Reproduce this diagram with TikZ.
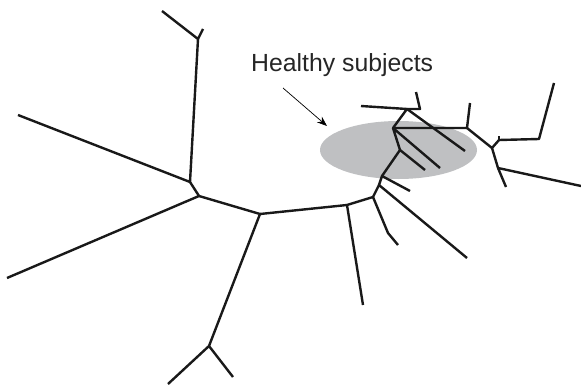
\documentclass[tikz,border=0pt]{standalone}
\usepackage{fontspec}
\setmainfont{Liberation Sans}
\usetikzlibrary{arrows.meta}
\definecolor{ellgray}{RGB}{191,192,194}
\tikzset{
  branch/.style={line width=2.4pt, line join=round, color=black!90},
  pointer/.style={line width=0.7pt, -{Stealth[length=10pt,width=7.5pt]}},
  label/.style={anchor=base west, inner sep=0pt, font=\fontsize{24.8}{29}\selectfont, text=black!85}
}
\begin{document}
\begin{tikzpicture}[x=1pt,y=-1pt]
\useasboundingbox (0,0) rectangle (581,385);
% shaded cluster
\fill[ellgray] (398.5,150) ellipse [x radius=78.5, y radius=29];
% internal nodes
\coordinate (n1) at (198,39);
\coordinate (n2) at (190,182);
\coordinate (n3) at (199,196);
\coordinate (n4) at (260,214);
\coordinate (n5) at (209,346);
\coordinate (n6) at (347,205);
\coordinate (n7) at (373,197);
\coordinate (n8) at (379,185);
\coordinate (n9) at (382,176);
\coordinate (n10) at (400,150);
\coordinate (na) at (393,128);
\coordinate (nc) at (407,109);
\coordinate (nb) at (467,128);
\coordinate (ng) at (492,148);
\coordinate (nh) at (498,168);
\coordinate (nk) at (499,140);
\coordinate (nj) at (388,233);
\coordinate (nm) at (420,109);
\coordinate (np) at (539,139);
% leaves
\coordinate (l1) at (162,11);
\coordinate (l1s) at (203,29);
\coordinate (l2) at (18,115);
\coordinate (l3) at (7,278);
\coordinate (l4) at (168,384);
\coordinate (l5) at (233,377);
\coordinate (l6) at (363,305);
\coordinate (l7) at (398,245);
\coordinate (l8) at (467,258);
\coordinate (l9) at (410,191);
\coordinate (l10) at (425,170);
\coordinate (l11) at (440,168);
\coordinate (l12) at (361,106);
\coordinate (l13) at (416,92);
\coordinate (l14) at (465,151);
\coordinate (l15) at (470,103);
\coordinate (l16) at (554,83);
\coordinate (l16s) at (499,136);
\coordinate (l17) at (506,187);
\coordinate (l18) at (581,186);
% tree
\draw[branch] (l1) -- (n1) -- (l1s);
\draw[branch] (n1) -- (n2) -- (l2);
\draw[branch] (n2) -- (n3) -- (l3);
\draw[branch] (n3) -- (n4) -- (n5) -- (l4);
\draw[branch] (n5) -- (l5);
\draw[branch] (n4) -- (n6) -- (l6);
\draw[branch] (n6) -- (n7) -- (nj) -- (l7);
\draw[branch] (n7) -- (n8) -- (l8);
\draw[branch] (n8) -- (n9) -- (l9);
\draw[branch] (n9) -- (n10) -- (l10);
\draw[branch] (n10) -- (na) -- (l11);
\draw[branch] (na) -- (nc) -- (l12);
\draw[branch] (nc) -- (nm) -- (l13);
\draw[branch] (nc) -- (l14);
\draw[branch] (na) -- (nb) -- (l15);
\draw[branch] (nb) -- (ng) -- (nk) -- (np) -- (l16);
\draw[branch] (nk) -- (l16s);
\draw[branch] (ng) -- (nh) -- (l17);
\draw[branch] (nh) -- (l18);
% label
\node[label] (lab) at (251,71.5) {Healthy subjects};
\coordinate (arrstart) at (283,88);
\coordinate (arrend) at (327,126);
\draw[pointer] (arrstart) -- (arrend);
\end{tikzpicture}
\end{document}
